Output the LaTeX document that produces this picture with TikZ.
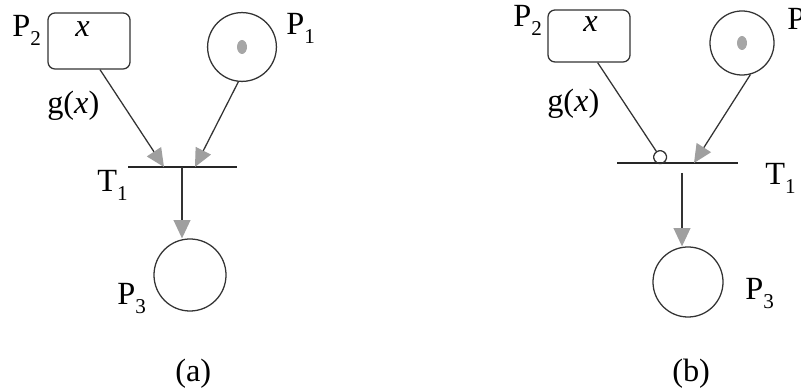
\documentclass[tikz,border=0pt]{standalone}
\usepackage{fontspec}
\setmainfont{Liberation Serif}
\usetikzlibrary{arrows.meta}
\newcommand{\pidx}[1]{\raisebox{-0.55ex}{\fontsize{15}{15}\selectfont #1}}

\begin{document}
\begin{tikzpicture}[x=0.025cm,y=-0.025cm,
  place/.style={draw=black!80,circle,line width=0.9pt,minimum size=1.72cm,inner sep=0pt},
  box/.style={draw=black!80,rounded corners=5pt,line width=0.9pt,minimum width=2.05cm,minimum height=1.4cm},
  lbl/.style={font=\rmfamily\fontsize{23}{25}\selectfont,inner sep=0pt,anchor=base west},
  arc/.style={draw=black!80,line width=0.9pt,-{Triangle[length=13pt,width=12pt,color=gray!75,fill=gray!75]}},
  inh/.style={draw=black!80,line width=0.9pt,-{Circle[open,length=10pt,width=10pt,line width=0.9pt]}},
  bar/.style={draw=black!85,line width=1pt}]
\useasboundingbox (0,0) rectangle (801,392);
% (a)
\node[box] (a2) at (89,41) {};
\node[place] (a1) at (242,47) {};
\fill[gray!70] (a1.center) ellipse (5 and 7);
\node[place,minimum size=1.8cm] (a3) at (190,275) {};
\coordinate (aTl) at (128,167);
\coordinate (aTr) at (237,167);
\coordinate (aIn2) at (164,167);
\coordinate (aIn1) at (195,167);
\coordinate (aOut) at (182,167);
\draw[bar] (aTl)--(aTr);
\draw[arc] (a2.-69) -- (aIn2);
\draw[arc] (a1.-96) -- (aIn1);
\draw[arc] (aOut) -- (a3.north -| aOut);
\node[lbl] (a2l) at (12,37) {P\pidx{2}};
\node[lbl] (a2x) at (75,37) {\textit{x}};
\node[lbl] (a1l) at (286,35) {P\pidx{1}};
\node[lbl] (agx) at (47,114) {g(\textit{x})};
\node[lbl] (aTlab) at (97,192) {T\pidx{1}};
\node[lbl] (a3l) at (117,305) {P\pidx{3}};
\node[lbl] (acap) at (175,381) {(a)};
% (b)
\node[box,minimum height=1.3cm] (b2) at (589,36) {};
\node[place,minimum size=1.6cm] (b1) at (742,43) {};
\fill[gray!70] (b1.center) ellipse (5 and 7);
\node[place,minimum size=1.75cm] (b3) at (688,282) {};
\coordinate (bTl) at (617,163);
\coordinate (bTr) at (738,163);
\coordinate (bIn2) at (664,163);
\coordinate (bIn1) at (694,163);
\coordinate (bOut) at (682,163);
\draw[bar] (bTl)--(bTr);
\draw[inh] (b2.-72) -- (bIn2);
\draw[arc] (b1.-75) -- (bIn1);
\draw[arc,shorten <=7pt] (bOut) -- (b3.north -| bOut);
\node[lbl] (b2l) at (513,27) {P\pidx{2}};
\node[lbl] (b2x) at (583,32) {\textit{x}};
\node[lbl] (b1l) at (787,30) {P\pidx{1}};
\node[lbl] (bgx) at (547,112) {g(\textit{x})};
\node[lbl] (bTlab) at (765,185) {T\pidx{1}};
\node[lbl] (b3l) at (745,300) {P\pidx{3}};
\node[lbl] (bcap) at (672,382) {(b)};
\end{tikzpicture}
\end{document}
